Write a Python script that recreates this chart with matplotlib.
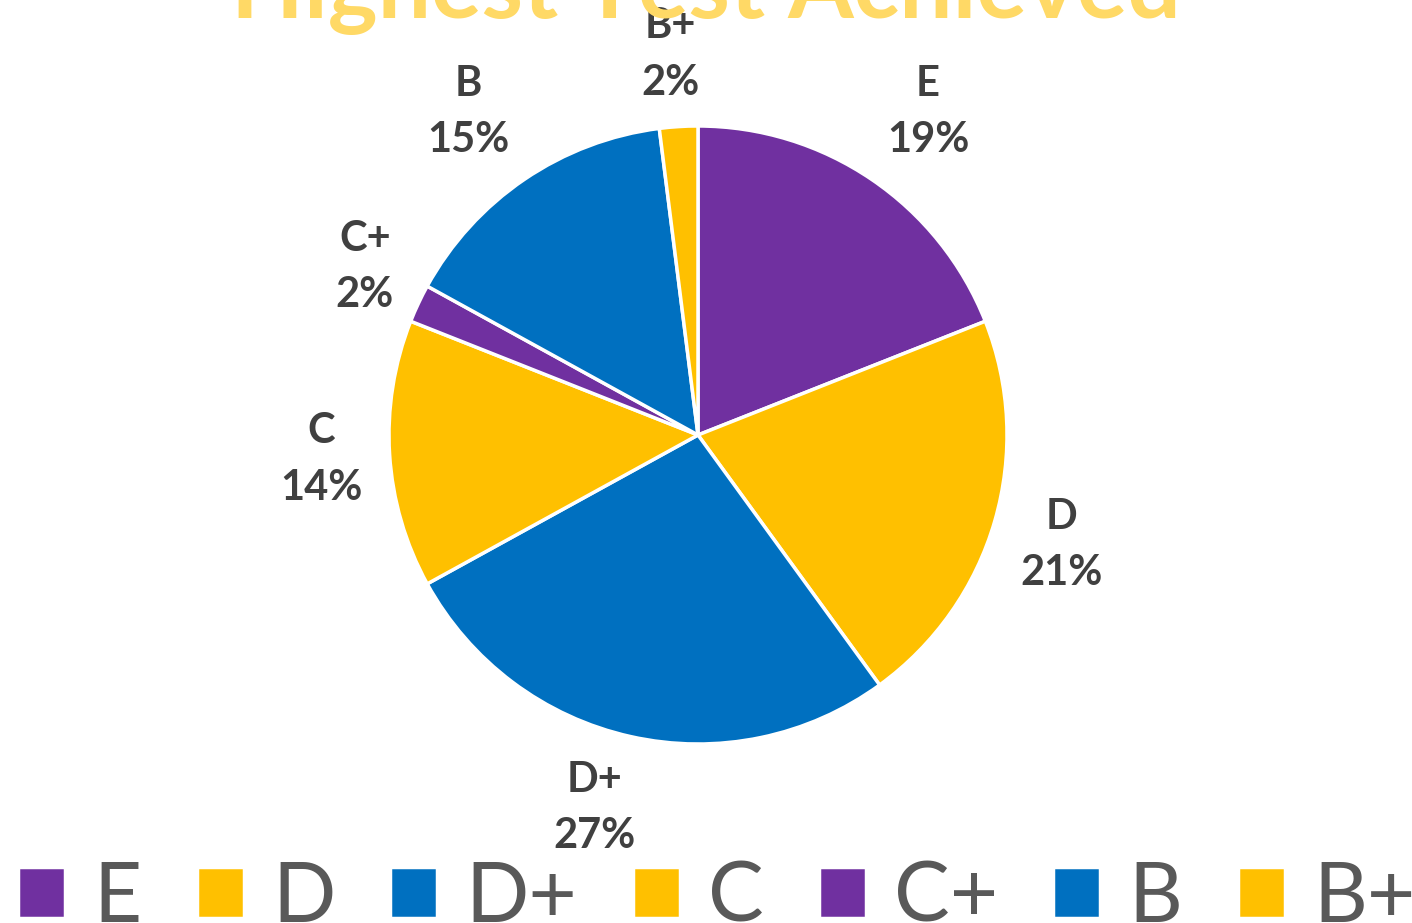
import matplotlib.pyplot as plt
import numpy as np

# grade share of pupils (percent)
grades = ["E", "D", "D+", "C", "C+", "B", "B+"]
shares = [19, 21, 27, 14, 2, 15, 2]
colors = ["#7030A0", "#FFC000", "#0070C0", "#FFC000", "#7030A0", "#0070C0", "#FFC000"]
title = "Highest Test Achieved"

W, H = 1412, 923
fig = plt.figure(figsize=(W / 100, H / 100), dpi=100)
ax = fig.add_axes([0, 0, 1, 1])

# work in pixel units so the pie sits where it does in the picture
cx, cy, R = 698, H - 435, 309
wedges, _ = ax.pie(shares, colors=colors, startangle=90, counterclock=False,
                   center=(cx, cy), radius=R,
                   wedgeprops=dict(edgecolor="white", linewidth=2.5))
ax.set_xlim(0, W)
ax.set_ylim(0, H)
ax.set_aspect("equal")
ax.axis("off")

# outside-end data labels: anchor just outside the rim, then shift the
# label box away from the pie so it does not touch the wedge
renderer = fig.canvas.get_renderer()
r_lab, hh = 336, 45
for w, g, p in zip(wedges, grades, shares):
    a = np.deg2rad((w.theta1 + w.theta2) / 2)
    dx, dy = np.cos(a), np.sin(a)
    t = ax.text(0, 0, f"{g}\n{p}%", ha="center", va="center", fontsize=30,
                fontweight="bold", color="#404040", family="Lato",
                linespacing=1.6)
    hw = t.get_window_extent(renderer).width / 2
    fx = min(1, abs(dx) / 0.3)
    fy = min(1, abs(dy) / 0.77)
    t.set_position((cx + dx * r_lab + np.sign(dx) * hw * fx,
                    cy + dy * r_lab + np.sign(dy) * hh * fy))

# title, mostly cut off by the top edge
ax.text(W / 2, H - 18, title, ha="center", va="baseline", fontsize=68,
        fontweight="bold", color="#FFD966", family="Lato")

leg = fig.legend(wedges, grades, ncol=7, loc="lower left",
                 bbox_to_anchor=(18 / W, -0.015), frameon=False,
                 prop=dict(family="Lato", size=60),
                 handlelength=0.565, handleheight=0.565, handletextpad=0.34,
                 columnspacing=0.66, borderpad=0, borderaxespad=0)
for t in leg.get_texts():
    t.set_color("#595959")

fig.savefig("out.png", dpi=100)
